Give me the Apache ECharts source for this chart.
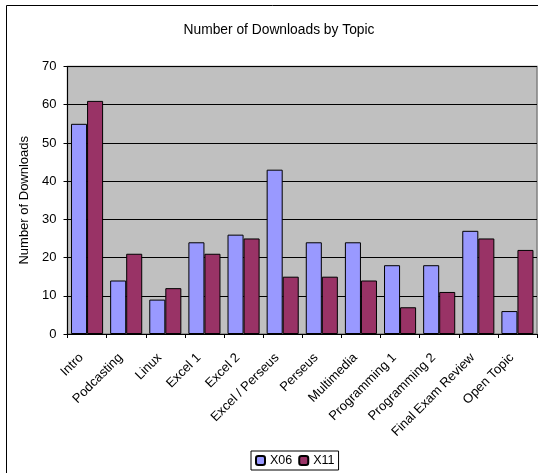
<!DOCTYPE html>
<html><head><meta charset="utf-8">
<script src="https://cdn.jsdelivr.net/npm/echarts@6/dist/echarts.min.js"></script>
<style>html,body{margin:0;padding:0;background:#fff}#c{width:538px;height:473px}</style>
</head><body><div id="c"></div>
<script>
const categories = ["Intro","Podcasting","Linux","Excel 1","Excel 2","Excel / Perseus","Perseus","Multimedia","Programming 1","Programming 2","Final Exam Review","Open Topic"];
const x06 = [55,14,9,24,26,43,24,24,18,18,27,6];
const x11 = [61,21,12,21,25,15,15,14,7,11,25,22];
const yTicks = [0,10,20,30,40,50,60,70];

const chart = echarts.init(document.getElementById('c'), null, {renderer:'canvas'});
const font = 'Liberation Sans, Arial, sans-serif';
chart.setOption({
  animation:false,
  textStyle:{fontFamily:font},
  graphic:[{type:'rect',shape:{x:6.5,y:5.5,width:560,height:500},style:{fill:'none',stroke:'#000',lineWidth:1},z:-1}],
  title:{text:'Number of Downloads by Topic',left:274,top:18,textAlign:'center',
    textStyle:{fontFamily:font,fontSize:13.8,fontWeight:'normal',color:'#000'}},
  grid:{left:67.5,top:66.5,right:1,bottom:139,containLabel:false,
    show:true,backgroundColor:'#C0C0C0',borderColor:'#808080',borderWidth:1.5},
  legend:{bottom:3,left:251,data:['X06','X11'],itemWidth:9,itemHeight:9,itemGap:6,
    borderColor:'#000',borderWidth:1,padding:[3,4,3,4],
    textStyle:{fontFamily:font,fontSize:12.5,color:'#000'}},
  xAxis:{type:'category',data:categories,
    axisLine:{lineStyle:{color:'#000',width:1}},
    axisTick:{show:true,alignWithLabel:false,length:4,lineStyle:{color:'#000'}},
    axisLabel:{rotate:45,interval:0,fontFamily:font,fontSize:13,color:'#000',margin:16,padding:[0,8,0,0]}},
  yAxis:{type:'value',min:0,max:70,interval:10,
    name:'Number of Downloads',nameLocation:'middle',nameGap:33,
    nameTextStyle:{fontFamily:font,fontSize:13,color:'#000'},
    axisLine:{show:true,lineStyle:{color:'#000'}},
    axisTick:{show:true,length:4,lineStyle:{color:'#000'}},
    axisLabel:{fontFamily:font,fontSize:13,color:'#000',margin:11,
      formatter:v=>yTicks.includes(v)?String(v):''},
    splitLine:{show:true,lineStyle:{color:'#000',width:1}}},
  series:[
    {name:'X06',type:'bar',data:x06,barGap:'0%',barCategoryGap:'18%',
      itemStyle:{color:'#9999FF',borderColor:'#000',borderWidth:1}},
    {name:'X11',type:'bar',data:x11,barGap:'0%',barCategoryGap:'18%',
      itemStyle:{color:'#993366',borderColor:'#000',borderWidth:1}}
  ]
});
</script></body></html>
